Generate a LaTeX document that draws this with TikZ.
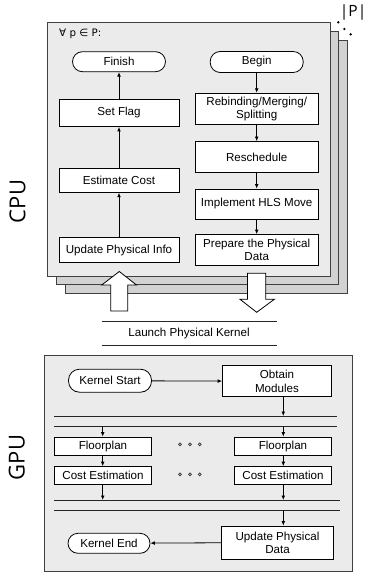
\documentclass[tikz,border=0pt]{standalone}
\usepackage{fontspec}
\setmainfont{Liberation Sans}
\newfontfamily\symfont{DejaVu Sans}
\newfontfamily\labfont{Open Sans}
\usetikzlibrary{arrows.meta}
\definecolor{panelfront}{HTML}{EBEBEB}
\definecolor{panelback}{HTML}{D2D2D2}
\definecolor{panelline}{HTML}{404040}
\begin{document}
\begin{tikzpicture}[x=1pt,y=-1pt,
  every node/.style={font=\fontsize{11.6}{13.3}\selectfont, inner sep=0pt, align=center},
  procbox/.style={draw=black, fill=white, line width=0.8pt, minimum height=#1},
  procbox/.default=25pt,
  termbox/.style={draw=black, fill=white, line width=0.8pt, rounded corners=10pt, minimum height=20pt},
  panel/.style={draw=panelline, line width=0.9pt},
  flow/.style={line width=0.8pt, -{Latex[length=4.5pt,width=3.8pt]}},
  bar/.style={line width=0.8pt, draw=black!85},
  hollow/.style={draw=black, fill=white, line width=0.8pt},
  sdot/.style={circle, draw=black!75, fill=black!25, line width=0.7pt, minimum size=3pt, inner sep=0pt}
]
\useasboundingbox (0,0) rectangle (367,572);

% CPU stacked panels
\draw[panel, fill=panelback] (65,40) rectangle (347,293);
\draw[panel, fill=panelback] (56.5,31.5) rectangle (338.5,284.5);
\draw[panel, fill=panelfront] (47.7,22.7) rectangle (330,276);

\node[anchor=west, font=\symfont\fontsize{10.3}{12}\selectfont] (forall) at (59,33.5) {∀ p ∈ P:};

\node[anchor=east, font=\labfont\fontsize{15.5}{18}\selectfont] (np) at (366.5,12.5) {|P|};
\node[circle, fill=black, minimum size=2.6pt] (d1) at (338.3,22.3) {};
\node[circle, fill=black, minimum size=2.6pt] (d2) at (344.3,29) {};
\node[circle, fill=black, minimum size=2.6pt] (d3) at (350.7,34.3) {};

\node[rotate=90, font=\labfont\fontsize{22}{24}\selectfont] (cpu) at (17.5,201.5) {CPU};
\node[rotate=90, font=\labfont\fontsize{22}{24}\selectfont] (gpu) at (16.7,457.5) {GPU};

% left column
\node[termbox, minimum width=93pt] (finish) at (119,61.7) {Finish};
\node[procbox=27pt, minimum width=120pt] (setflag) at (119,113) {Set Flag};
\node[procbox=24pt, minimum width=120pt] (estcost) at (119,180.3) {Estimate Cost};
\node[procbox=25pt, minimum width=120pt] (updinfo) at (119,250) {Update Physical Info};

% right column
\node[termbox, minimum width=93pt, minimum height=21pt] (begin) at (256.7,62) {Begin};
\node[procbox=31pt, minimum width=123pt] (rebind) at (256.7,108.7) {Rebinding/Merging/\\Splitting};
\node[procbox=31pt, minimum width=123pt] (resched) at (256.7,157) {Reschedule};
\node[procbox=30pt, minimum width=123pt] (implement) at (256.7,204) {Implement HLS Move};
\node[procbox=31pt, minimum width=123pt] (prepare) at (256.7,250) {Prepare the Physical\\Data};

\draw[flow] (updinfo) -- (estcost);
\draw[flow] (estcost) -- (setflag);
\draw[flow] (setflag) -- (finish);
\draw[flow] (begin) -- (rebind);
\draw[flow] (rebind) -- (resched);
\draw[flow] (resched) -- (implement);
\draw[flow] (implement) -- (prepare);

% hollow arrows
\draw[hollow] (110.7,311) -- (110.7,285) -- (101.7,285) -- (119.3,271.5) -- (136.5,285) -- (127.7,285) -- (127.7,311) -- cycle;
\draw[hollow] (247.5,273.3) -- (247.5,299.3) -- (240,299.3) -- (256.7,312.3) -- (274.3,299.3) -- (265.7,299.3) -- (265.7,273.3) -- cycle;

% launch
\draw[bar] (101.7,321.7) -- (276.7,321.7);
\draw[bar] (101.7,345) -- (276.7,345);
\node (launch) at (189,333.3) {Launch Physical Kernel};

% GPU panel
\draw[panel, fill=panelfront] (44.5,355.7) rectangle (352.3,571.5);

\node[termbox, minimum width=83pt, minimum height=23pt, rounded corners=11pt] (kstart) at (110,380.7) {Kernel Start};
\node[procbox=31pt, minimum width=109pt] (obtain) at (277,381.3) {Obtain\\Modules};
\draw[flow] (kstart) -- (obtain);

\draw[bar] (54,416) -- (336.7,416);
\draw[bar] (54,426) -- (336.7,426);
\coordinate (fork) at (283.3,416);
\draw[flow] (obtain.south -| fork) -- (fork);

\node[procbox=18pt, minimum width=97pt] (fpl) at (103,446) {Floorplan};
\node[procbox=18pt, minimum width=97pt] (fpr) at (283,446) {Floorplan};
\node[procbox=17.5pt, minimum width=97pt] (cel) at (103,475.3) {Cost Estimation};
\node[procbox=17.5pt, minimum width=97pt] (cer) at (283,475.3) {Cost Estimation};

\coordinate (fl) at (102.7,426);
\coordinate (fr) at (283.3,426);
\draw[flow] (fl) -- (fpl.north -| fl);
\draw[flow] (fr) -- (fpr.north -| fr);
\draw[flow] (fpl.south -| fl) -- (cel.north -| fl);
\draw[flow] (fpr.south -| fr) -- (cer.north -| fr);

\draw[bar] (54,500) -- (340,500);
\draw[bar] (54,510) -- (340,510);
\coordinate (jl) at (102.7,500);
\coordinate (jr) at (283.3,500);
\draw[flow] (cel.south -| jl) -- (jl);
\draw[flow] (cer.south -| jr) -- (jr);

\foreach \i/\xx in {1/180,2/190,3/199.7}{
  \node[sdot] (ua\i) at (\xx,444.3) {};
  \node[sdot] (ub\i) at (\xx,474.3) {};
}

\node[procbox=33pt, minimum width=111.7pt] (upddata) at (277.5,542.5) {Update Physical\\Data};
\node[termbox, minimum width=82pt] (kend) at (109,543.3) {Kernel End};
\coordinate (jr2) at (283.3,510);
\draw[flow] (jr2) -- (upddata.north -| jr2);
\draw[flow] (upddata) -- (kend);
\end{tikzpicture}
\end{document}
